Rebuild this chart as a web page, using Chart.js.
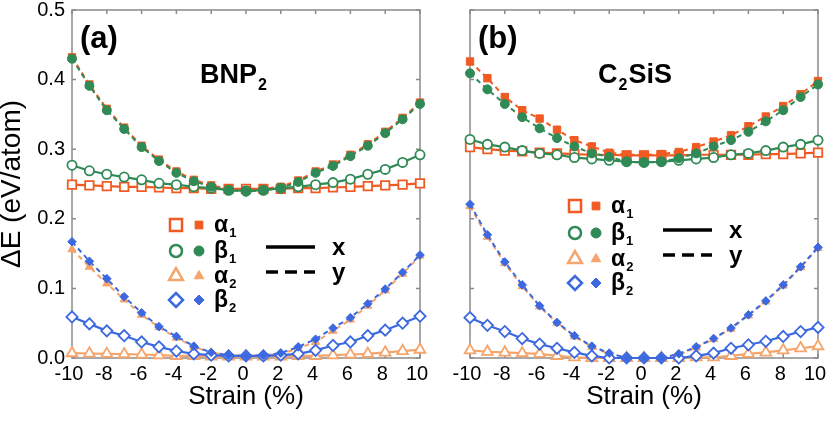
<!DOCTYPE html>
<html lang="en">
<head>
<meta charset="UTF-8">
<title>Strain energy | BNP2 and C2SiS</title>
<script src="https://cdn.jsdelivr.net/npm/chart.js"></script>
<style>
  body { margin: 0; background: #fff; }
  .wrap { position: relative; width: 830px; height: 425px; }
  .panel { position: absolute; top: 0; height: 425px; }
</style>
</head>
<body>
<div class="wrap">
  <div class="panel" style="left:0;width:440px"><canvas id="chartA"></canvas></div>
  <div class="panel" style="left:425px;width:405px"><canvas id="chartB"></canvas></div>
</div>

<script>
const strain = [-10, -9, -8, -7, -6, -5, -4, -3, -2, -1, 0, 1, 2, 3, 4, 5, 6, 7, 8, 9, 10];

// (a) BNP2, x = solid/open, y = dashed/filled
const bnpAlpha1X = [0.249, 0.248, 0.247, 0.246, 0.246, 0.245, 0.244, 0.244, 0.243, 0.243, 0.243, 0.243, 0.243, 0.244, 0.244, 0.245, 0.246, 0.247, 0.248, 0.249, 0.251];
const bnpAlpha1Y = [0.432, 0.393, 0.358, 0.331, 0.305, 0.285, 0.268, 0.256, 0.248, 0.243, 0.241, 0.243, 0.246, 0.255, 0.268, 0.278, 0.292, 0.307, 0.325, 0.345, 0.367];
const bnpBeta1X = [0.277, 0.269, 0.264, 0.260, 0.256, 0.251, 0.249, 0.246, 0.244, 0.241, 0.240, 0.241, 0.244, 0.246, 0.249, 0.252, 0.257, 0.264, 0.271, 0.281, 0.292];
const bnpBeta1Y = [0.430, 0.391, 0.356, 0.329, 0.303, 0.283, 0.266, 0.254, 0.246, 0.241, 0.239, 0.241, 0.244, 0.253, 0.266, 0.276, 0.290, 0.305, 0.323, 0.343, 0.365];
const bnpAlpha2X = [0.007, 0.0065, 0.006, 0.0055, 0.005, 0.004, 0.003, 0.003, 0.002, 0.002, 0.002, 0.002, 0.002, 0.003, 0.003, 0.004, 0.005, 0.006, 0.008, 0.010, 0.012];
const bnpAlpha2Y = [0.156, 0.131, 0.107, 0.084, 0.062, 0.044, 0.029, 0.016, 0.008, 0.004, 0.003, 0.004, 0.006, 0.014, 0.023, 0.039, 0.055, 0.075, 0.097, 0.121, 0.147];
const bnpBeta2X = [0.059, 0.049, 0.039, 0.032, 0.023, 0.016, 0.010, 0.006, 0.004, 0.003, 0.003, 0.003, 0.004, 0.006, 0.011, 0.018, 0.023, 0.032, 0.040, 0.050, 0.060];
const bnpBeta2Y = [0.167, 0.139, 0.114, 0.088, 0.065, 0.045, 0.031, 0.017, 0.008, 0.004, 0.003, 0.004, 0.007, 0.016, 0.027, 0.043, 0.058, 0.078, 0.099, 0.123, 0.148];

// (b) C2SiS
const csAlpha1X = [0.303, 0.300, 0.298, 0.297, 0.295, 0.294, 0.293, 0.292, 0.292, 0.291, 0.291, 0.291, 0.291, 0.292, 0.292, 0.292, 0.292, 0.293, 0.293, 0.294, 0.295];
const csAlpha1Y = [0.426, 0.402, 0.375, 0.356, 0.344, 0.328, 0.313, 0.304, 0.295, 0.292, 0.292, 0.293, 0.296, 0.303, 0.311, 0.320, 0.333, 0.347, 0.362, 0.379, 0.398];
const csBeta1X = [0.314, 0.307, 0.303, 0.298, 0.294, 0.292, 0.288, 0.286, 0.284, 0.282, 0.281, 0.282, 0.284, 0.286, 0.288, 0.292, 0.294, 0.298, 0.303, 0.307, 0.313];
const csBeta1Y = [0.409, 0.386, 0.365, 0.346, 0.330, 0.316, 0.304, 0.294, 0.289, 0.282, 0.281, 0.282, 0.287, 0.294, 0.304, 0.313, 0.325, 0.340, 0.356, 0.375, 0.393];
const csAlpha2X = [0.011, 0.009, 0.008, 0.007, 0.006, 0.003, 0.001, 0, 0, 0, 0, 0, 0, 0.001, 0.001, 0.003, 0.006, 0.008, 0.011, 0.014, 0.017];
const csAlpha2Y = [0.218, 0.174, 0.136, 0.103, 0.074, 0.050, 0.031, 0.016, 0.006, 0, 0, 0, 0.005, 0.015, 0.027, 0.042, 0.061, 0.081, 0.104, 0.130, 0.158];
const csBeta2X = [0.058, 0.047, 0.038, 0.028, 0.020, 0.014, 0.008, 0.003, 0, 0, 0, 0, 0, 0.003, 0.007, 0.014, 0.019, 0.024, 0.031, 0.038, 0.044];
const csBeta2Y = [0.221, 0.177, 0.138, 0.105, 0.075, 0.051, 0.032, 0.017, 0.007, 0, 0, 0, 0.006, 0.016, 0.028, 0.043, 0.062, 0.082, 0.105, 0.131, 0.159];

const FONT = "'Liberation Sans', Arial, Helvetica, sans-serif";
const colors = { alpha1: '#f15a22', beta1: '#2f8a56', alpha2: '#f5a46b', beta2: '#3c69e0' };
const markers = { alpha1: 'rect', beta1: 'circle', alpha2: 'triangle', beta2: 'rectRot' };
const openR = { rect: 6, circle: 4.6, triangle: 6.2, rectRot: 5.6 };
const fillR = { rect: 5.2, circle: 4.5, triangle: 4.8, rectRot: 4.3 };

Chart.defaults.font.family = FONT;
Chart.defaults.color = '#000';

function series(vals, key, open, order) {
    const style = markers[key];
    return {
        data: vals.map((v, i) => ({ x: strain[i], y: v })),
        borderColor: colors[key],
        borderWidth: open ? 2.2 : 2,
        borderDash: open ? [] : [5, 4],
        pointStyle: style,
        pointRadius: open ? openR[style] : fillR[style],
        pointBorderColor: colors[key],
        pointBackgroundColor: open ? '#fff' : colors[key],
        pointBorderWidth: open ? 1.8 : 1,
        tension: 0,
        clip: false,
        order: order
    };
}

function datasets(a1x, a1y, b1x, b1y, a2x, a2y, b2x, b2y) {
    // higher order is drawn first, so beta sits over alpha
    return [
        series(a1x, 'alpha1', true, 7),
        series(a1y, 'alpha1', false, 6),
        series(b1x, 'beta1', true, 5),
        series(b1y, 'beta1', false, 4),
        series(a2x, 'alpha2', true, 3),
        series(a2y, 'alpha2', false, 2),
        series(b2x, 'beta2', true, 1),
        series(b2y, 'beta2', false, 0)
    ];
}

// box round the plot with short inward ticks
const framePlugin = {
    id: 'frame',
    beforeDatasetsDraw(chart) {
        const { ctx, chartArea: a, scales } = chart;
        ctx.save();
        ctx.strokeStyle = '#8a8a8a';
        ctx.lineWidth = 1.5;
        ctx.strokeRect(a.left, a.top, a.right - a.left, a.bottom - a.top);
        ctx.beginPath();
        scales.x.ticks.forEach(t => {
            const px = scales.x.getPixelForValue(t.value);
            ctx.moveTo(px, a.top); ctx.lineTo(px, a.top + 4);
            ctx.moveTo(px, a.bottom); ctx.lineTo(px, a.bottom - 4);
        });
        scales.y.ticks.forEach(t => {
            const py = scales.y.getPixelForValue(t.value);
            ctx.moveTo(a.left, py); ctx.lineTo(a.left + 4, py);
            ctx.moveTo(a.right, py); ctx.lineTo(a.right - 4, py);
        });
        ctx.stroke();
        ctx.restore();
    }
};

function textSub(ctx, x, y, main, sub, size, subSize, drop) {
    ctx.font = 'bold ' + size + 'px ' + FONT;
    ctx.fillText(main, x, y);
    const w = ctx.measureText(main).width;
    ctx.font = 'bold ' + subSize + 'px ' + FONT;
    ctx.fillText(sub, x + w + 1, y + drop);
    return x + w + 1 + ctx.measureText(sub).width;
}

// panel letter, compound name and the marker/line key
const notesPlugin = {
    id: 'notes',
    afterDraw(chart, args, o) {
        const ctx = chart.ctx;
        ctx.save();
        ctx.fillStyle = '#000';
        ctx.textBaseline = 'alphabetic';
        ctx.textAlign = 'left';
        ctx.font = 'bold 31px ' + FONT;
        ctx.fillText(o.letter, o.letterX, 48);

        if (o.name === 'BNP') {
            textSub(ctx, o.nameX, 83, 'BNP', '2', 27, 16, 7);
        } else {
            const nx = textSub(ctx, o.nameX, 83, 'C', '2', 27, 16, 7);
            ctx.font = 'bold 27px ' + FONT;
            ctx.fillText('SiS', nx + 1, 83);
        }

        const keys = ['alpha1', 'beta1', 'alpha2', 'beta2'];
        const names = [['α', '1'], ['β', '1'], ['α', '2'], ['β', '2']];
        const bigR = { rect: 8.5, circle: 6, triangle: 8, rectRot: 7 };
        const smallR = { rect: 5.5, circle: 5, triangle: 5.5, rectRot: 5 };
        keys.forEach((k, i) => {
            const y = o.rows[i];
            const st = markers[k];
            ctx.strokeStyle = colors[k];
            ctx.fillStyle = '#fff';
            ctx.lineWidth = 2.5;
            Chart.helpers.drawPoint(ctx, { pointStyle: st, radius: bigR[st], borderWidth: 2.5, rotation: 0 }, o.openX, y);
            ctx.fillStyle = colors[k];
            ctx.lineWidth = 1;
            Chart.helpers.drawPoint(ctx, { pointStyle: st, radius: smallR[st], borderWidth: 1, rotation: 0 }, o.fillX, y);
            ctx.fillStyle = '#000';
            textSub(ctx, o.labelX, y + 6.5, names[i][0], names[i][1], 23, 13, 5);
        });

        ctx.strokeStyle = '#000';
        ctx.lineWidth = 3.5;
        ctx.beginPath();
        ctx.moveTo(o.lineX0, o.lineY[0]); ctx.lineTo(o.lineX1, o.lineY[0]);
        ctx.stroke();
        ctx.setLineDash([12, 7]);
        ctx.beginPath();
        ctx.moveTo(o.lineX0, o.lineY[1]); ctx.lineTo(o.lineX1, o.lineY[1]);
        ctx.stroke();
        ctx.setLineDash([]);
        ctx.font = 'bold 24px ' + FONT;
        ctx.fillText('x', o.xyX, o.lineY[0] + 8);
        ctx.fillText('y', o.xyX, o.lineY[1] + 8);
        ctx.restore();
    }
};

function options(showY, yWidth, padRight, notes) {
    return {
        responsive: true,
        maintainAspectRatio: false,
        animation: false,
        layout: { padding: { top: 10, right: padRight, left: 0, bottom: 0 } },
        plugins: { legend: { display: false }, tooltip: { enabled: false }, notes: notes },
        scales: {
            x: {
                type: 'linear', min: -10, max: 10,
                ticks: { stepSize: 2, padding: 4, labelOffset: -3, maxRotation: 0, autoSkip: false, font: { size: 20 } },
                grid: { display: false, drawTicks: false },
                border: { display: false },
                title: { display: true, text: 'Strain (%)', font: { size: 26 }, padding: { top: 0, bottom: 13 } },
                afterFit: s => { s.height = 67; s.paddingLeft = 0; s.paddingRight = 0; }
            },
            y: {
                min: 0, max: 0.5,
                ticks: { display: showY, stepSize: 0.1, padding: 7, font: { size: 20 }, callback: v => v.toFixed(1) },
                grid: { display: false, drawTicks: false },
                border: { display: false },
                title: { display: showY, text: 'ΔE (eV/atom)', font: { size: 28, lineHeight: 0.9 }, padding: 0 },
                afterFit: s => { s.width = yWidth; s.paddingTop = 0; s.paddingBottom = 0; }
            }
        }
    };
}

new Chart(document.getElementById('chartA'), {
    type: 'line',
    data: { datasets: datasets(bnpAlpha1X, bnpAlpha1Y, bnpBeta1X, bnpBeta1Y, bnpAlpha2X, bnpAlpha2Y, bnpBeta2X, bnpBeta2Y) },
    options: options(true, 72, 20, {
        letter: '(a)', letterX: 80, name: 'BNP', nameX: 200,
        rows: [225, 251, 276, 300], openX: 176, fillX: 199, labelX: 214,
        lineX0: 266, lineX1: 315, lineY: [247, 272], xyX: 332
    }),
    plugins: [framePlugin, notesPlugin]
});

new Chart(document.getElementById('chartB'), {
    type: 'line',
    data: { datasets: datasets(csAlpha1X, csAlpha1Y, csBeta1X, csBeta1Y, csAlpha2X, csAlpha2Y, csBeta2X, csBeta2Y) },
    options: options(false, 45, 12, {
        letter: '(b)', letterX: 53, name: 'C2SiS', nameX: 173,
        rows: [206, 233, 259, 283], openX: 150, fillX: 171, labelX: 186,
        lineX0: 238, lineX1: 287, lineY: [230, 255], xyX: 304
    }),
    plugins: [framePlugin, notesPlugin]
});
</script>
</body>
</html>
